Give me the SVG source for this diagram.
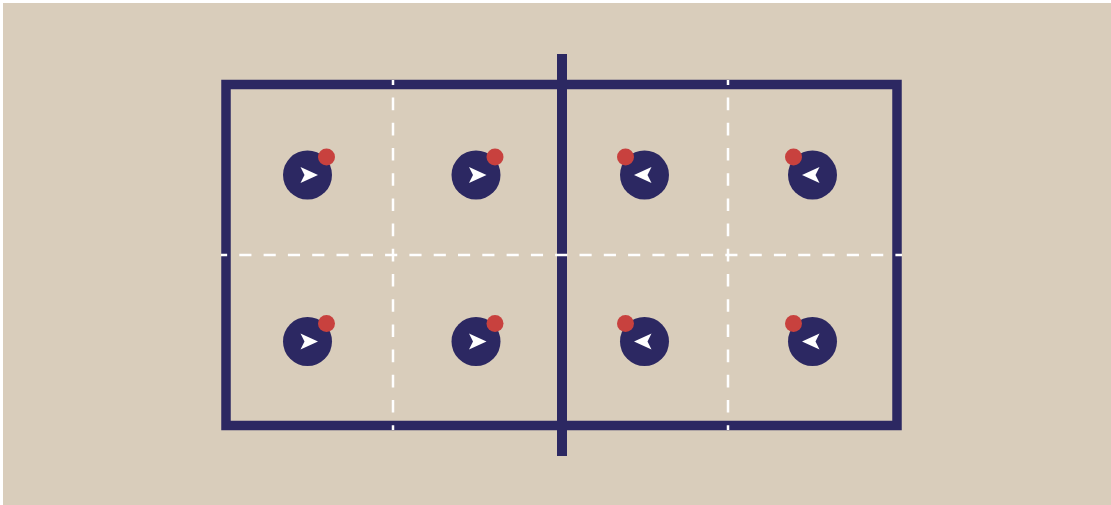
<svg xmlns="http://www.w3.org/2000/svg" width="1111" height="505" viewBox="0 0 1111 505">
<defs>
<style>
.court{fill:none;stroke:#2c2862;stroke-width:9.5}
.net{stroke:#2c2862;stroke-width:10}
.dash{stroke:#ffffff;stroke-width:2.5;fill:none}
.dh{stroke-dasharray:12.15 12.15;stroke-dashoffset:6}
.dv{stroke-dasharray:12.6 12.6;stroke-dashoffset:7.6}
.body{fill:#2c2862}
.head{fill:#c8413e}
.arrow{fill:#ffffff}
</style>
<g id="pr">
<circle class="body" cx="0" cy="0" r="24.5"/>
<circle class="head" cx="19" cy="-18" r="8.5"/>
<path class="arrow" d="M10.5,0 L-7,-8 L-3,0 L-7,8 Z"/>
</g>
<g id="pl">
<circle class="body" cx="0" cy="0" r="24.5"/>
<circle class="head" cx="-19" cy="-18" r="8.5"/>
<path class="arrow" d="M-10.5,0 L7,-8 L3,0 L7,8 Z"/>
</g>
</defs>
<rect x="3" y="3" width="1108" height="502" fill="#d9cdbb"/>
<g id="court">
<rect class="court" x="226" y="84.5" width="671" height="341"/>
<line class="net" x1="562" y1="54" x2="562" y2="456"/>
</g>
<g id="lines">
<line class="dash dh" x1="221" y1="255" x2="902" y2="255"/>
<line class="dash dv" x1="393" y1="80" x2="393" y2="430"/>
<line class="dash dv" x1="728" y1="80" x2="728" y2="430"/>
</g>
<g id="player1"><use href="#pr" x="307.5" y="175"/></g>
<g id="player2"><use href="#pr" x="476" y="175"/></g>
<g id="player3"><use href="#pl" x="644.5" y="175"/></g>
<g id="player4"><use href="#pl" x="812.5" y="175"/></g>
<g id="player5"><use href="#pr" x="307.5" y="341.5"/></g>
<g id="player6"><use href="#pr" x="476" y="341.5"/></g>
<g id="player7"><use href="#pl" x="644.5" y="341.5"/></g>
<g id="player8"><use href="#pl" x="812.5" y="341.5"/></g>
</svg>
